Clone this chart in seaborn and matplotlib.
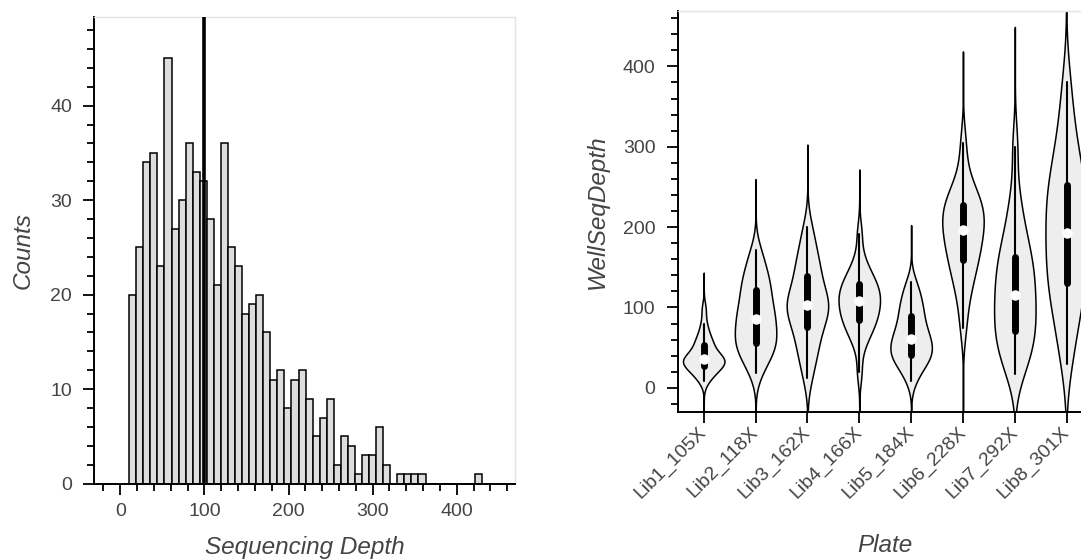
import numpy as np
import pandas as pd
import matplotlib
matplotlib.use("Agg")
import matplotlib.pyplot as plt
from matplotlib.ticker import MultipleLocator
import seaborn as sns

# ---------------- data ----------------
# histogram of sequencing depth (50 equal bins between min and max)
hist_min = 10.6
hist_max = 430.0
hist_counts = [20, 25, 34, 35, 23, 45, 27, 30, 36, 33,
               32, 28, 21, 36, 25, 23, 18, 19, 20, 16,
               11, 12, 8, 11, 12, 9, 5, 7, 9, 2,
               5, 4, 1, 3, 3, 6, 2, 0, 1, 1,
               1, 1, 0, 0, 0, 0, 0, 0, 0, 1]
depth_threshold = 100

plates = ["Lib1_105X", "Lib2_118X", "Lib3_162X", "Lib4_166X",
          "Lib5_184X", "Lib6_228X", "Lib7_292X", "Lib8_301X"]

lib1 = [8.5, 14, 18, 21, 24, 26, 28, 30, 32, 33, 34, 35,
        36, 38, 40, 43, 46, 52, 55, 58, 63, 70, 80, 98]
lib2 = [19, 30, 38, 45, 50, 53, 57, 62, 67, 72, 78, 84,
        88, 93, 98, 104, 110, 120, 126, 130, 138, 147, 158, 171]
lib3 = [12, 30, 42, 52, 60, 68, 78, 84, 90, 95, 99, 102,
        105, 109, 114, 120, 127, 138, 145, 150, 160, 170, 184, 200]
lib4 = [20, 52, 62, 70, 76, 80, 85, 89, 93, 97, 101, 105,
        110, 113, 116, 119, 123, 128, 132, 136, 142, 150, 162, 192]
lib5 = [9, 20, 27, 32, 36, 39, 42, 45, 48, 52, 56, 59,
        63, 67, 71, 76, 82, 88, 94, 100, 106, 113, 122, 132]
lib6 = [75, 105, 122, 135, 145, 153, 161, 168, 175, 181, 187, 193,
        200, 205, 210, 214, 218, 226, 231, 236, 242, 250, 270, 305]
lib7 = [17, 30, 40, 50, 58, 65, 72, 80, 88, 96, 104, 112,
        120, 128, 136, 145, 154, 160, 170, 182, 196, 214, 240, 300]
lib8 = [30, 60, 80, 98, 112, 122, 134, 145, 156, 166, 176, 186,
        200, 210, 220, 230, 240, 250, 262, 276, 292, 312, 340, 380]

plate_values = [lib1, lib2, lib3, lib4, lib5, lib6, lib7, lib8]
df = pd.DataFrame({
    "Plate": np.repeat(plates, [len(v) for v in plate_values]),
    "WellSeqDepth": np.concatenate(plate_values),
})

edges = np.linspace(hist_min, hist_max, len(hist_counts) + 1)
hist_df = pd.DataFrame({
    "depth": (edges[:-1] + edges[1:]) / 2,
    "count": np.asarray(hist_counts, dtype=float),
})

# ---------------- style ----------------
sns.set_style("white")
plt.rcParams["font.family"] = ["Liberation Sans", "DejaVu Sans"]

W, H = 1081, 560
fig = plt.figure(figsize=(W / 100, H / 100), dpi=100)

def frac(x0, x1, ytop, ybot):
    return [x0 / W, 1 - ybot / H, (x1 - x0) / W, (ybot - ytop) / H]

ax1 = fig.add_axes(frac(94.3, 515, 16.8, 483.7))
ax2 = fig.add_axes(frac(677.8, 1092.6, 10.7, 412.3))

label_color = "#444444"
tick_size = 14
label_size = 17.5

# ---------------- histogram ----------------
sns.histplot(data=hist_df, x="depth", weights="count", bins=list(edges),
             color="#dddddd", edgecolor="black", linewidth=1.1, alpha=1,
             ax=ax1)
ax1.axvline(depth_threshold, color="black", lw=2.6, zorder=5)
ax1.set_xlim(-30.9, 469.3)
ax1.set_ylim(0, 49.4)
ax1.xaxis.set_major_locator(MultipleLocator(100))
ax1.xaxis.set_minor_locator(MultipleLocator(20))
ax1.yaxis.set_major_locator(MultipleLocator(10))
ax1.yaxis.set_minor_locator(MultipleLocator(2))
ax1.set_xlabel("Sequencing Depth", style="italic", fontsize=label_size,
               color=label_color, labelpad=12)
ax1.set_ylabel("Counts", style="italic", fontsize=label_size,
               color=label_color, labelpad=11)

# ---------------- violins ----------------
sns.violinplot(data=df, x="Plate", y="WellSeqDepth", order=plates,
               color="#eeeeee", saturation=1, linecolor="black",
               linewidth=1.1, cut=5, bw_adjust=0.8, density_norm="width",
               width=0.8, inner="box",
               inner_kws=dict(box_width=5, whis_width=1.5, marker="o",
                              markersize=6.5),
               ax=ax2)
ax2.set_xlim(-0.5, 7.5)
ax2.set_ylim(-30.5, 469.3)
ax2.yaxis.set_major_locator(MultipleLocator(100))
ax2.yaxis.set_minor_locator(MultipleLocator(20))
ax2.set_xticks(range(len(plates)))
ax2.set_xticklabels(plates, rotation=45, ha="right", va="center",
                    rotation_mode="anchor")
ax2.set_xlabel("Plate", style="italic", fontsize=label_size,
               color=label_color, labelpad=23)
ax2.set_ylabel("WellSeqDepth", style="italic", fontsize=label_size,
               color=label_color, labelpad=10)

for ax in (ax1, ax2):
    for side in ("left", "bottom"):
        ax.spines[side].set_color("black")
        ax.spines[side].set_linewidth(1.4)
    for side in ("top", "right"):
        ax.spines[side].set_color("#e4e4e4")
        ax.spines[side].set_linewidth(1.0)
    ax.tick_params(which="major", direction="out", length=8.1, width=1.3,
                   color="black", labelcolor=label_color,
                   labelsize=tick_size)
    ax.tick_params(which="minor", direction="out", length=5.3, width=1.3,
                   color="black")
    ax.tick_params(axis="both", which="both", left=True, bottom=True)
    ax.tick_params(axis="y", which="major", pad=8)

ax1.tick_params(axis="x", which="major", pad=5.5)
ax2.tick_params(axis="x", which="major", pad=4.6)

fig.savefig("out.png", dpi=100)
